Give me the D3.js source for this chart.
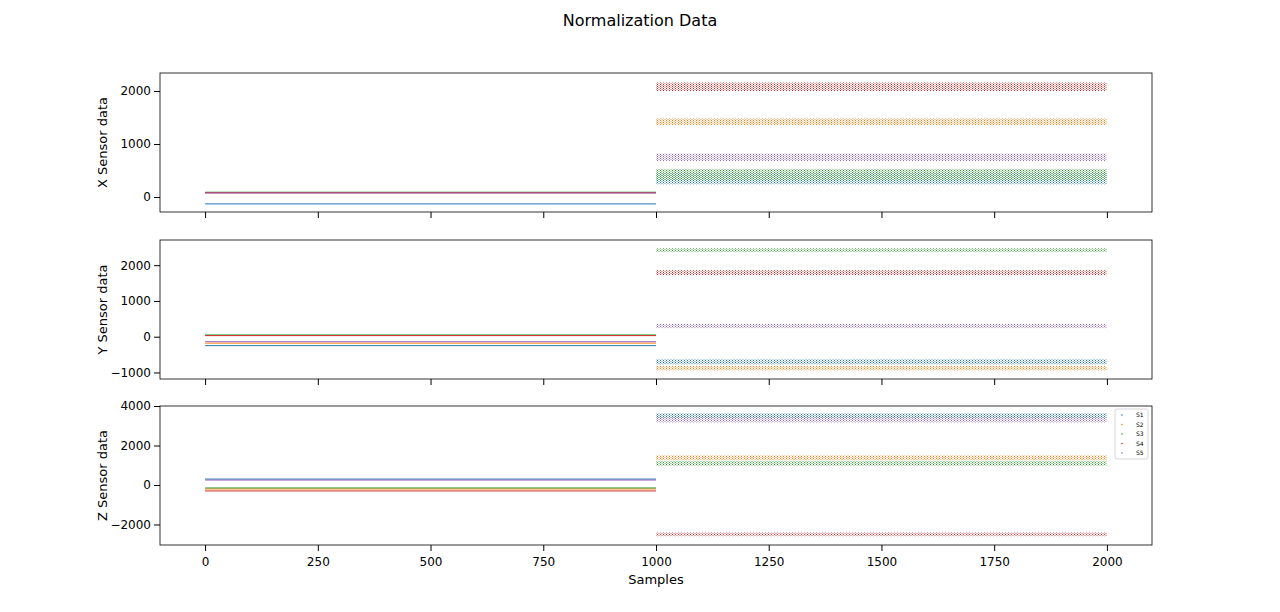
<!DOCTYPE html>
<html><head><meta charset="utf-8">
<script src="https://cdn.jsdelivr.net/npm/d3@7"></script>
<style>body{margin:0;background:#fff;font-family:"DejaVu Sans",sans-serif;}</style>
</head><body>
<script>
// Series names and colours (matplotlib tab10)
const seriesNames = ["S1", "S2", "S3", "S4", "S5"];
const colors = ["#1f77b4", "#ff7f0e", "#2ca02c", "#d62728", "#9467bd"];

// Each sensor: level for samples 0-1000 and 1000-2000, with approx spread (half width)
const panelLabels = ["X Sensor data", "Y Sensor data", "Z Sensor data"];
const firstLevels = [
  [-130, 85, 90, 80, 75],
  [-250, -180, 50, 30, -140],
  [300, -200, -150, -300, 250]
];
const secondLevels = [
  [350, 1420, 420, 2080, 750],
  [-700, -880, 2420, 1790, 300],
  [3500, 1380, 1100, -2500, 3300]
];
const secondSpread = [
  [110, 60, 110, 80, 70],
  [70, 60, 50, 70, 60],
  [130, 120, 120, 90, 130]
];
const yDomains = [[-283, 2340], [-1183, 2704], [-3038, 4000]];
const yTicks = [[0, 1000, 2000], [-1000, 0, 1000, 2000], [-2000, 0, 2000, 4000]];
const xTicks = [0, 250, 500, 750, 1000, 1250, 1500, 1750, 2000];

const W = 1280, H = 612;
const left = 160, right = 1152;
const tops = [73, 240, 406], ph = 139;

const svg = d3.select("body").append("svg").attr("width", W).attr("height", H);

// dotted fill patterns to imitate scattered points
const defs = svg.append("defs");
colors.forEach((c, i) => {
  const p = defs.append("pattern").attr("id", "dots" + i)
    .attr("width", 3).attr("height", 2).attr("patternUnits", "userSpaceOnUse");
  p.append("rect").attr("x", 0).attr("y", 0).attr("width", 1).attr("height", 1).attr("fill", c);
  p.append("rect").attr("x", 1.5).attr("y", 1).attr("width", 1).attr("height", 1).attr("fill", c).attr("opacity", 0.8);
});

svg.append("text").attr("x", 640).attr("y", 26).attr("text-anchor", "middle")
  .attr("font-size", 16).text("Normalization Data");

const x = d3.scaleLinear().domain([-100, 2100]).range([left, right]);

tops.forEach((top, k) => {
  const y = d3.scaleLinear().domain(yDomains[k]).range([top + ph, top]);
  const g = svg.append("g");

  seriesNames.forEach((s, i) => {
    // first half: near-constant line
    g.append("line")
      .attr("x1", x(0)).attr("x2", x(1000))
      .attr("y1", y(firstLevels[k][i])).attr("y2", y(firstLevels[k][i]))
      .attr("stroke", colors[i]).attr("stroke-width", 1);
    // second half: noisy band
    const lv = secondLevels[k][i], sp = secondSpread[k][i];
    g.append("rect")
      .attr("x", x(1000)).attr("width", x(2000) - x(1000))
      .attr("y", y(lv + sp)).attr("height", y(lv - sp) - y(lv + sp))
      .attr("fill", "url(#dots" + i + ")");
  });

  const xa = g.append("g").attr("transform", `translate(0,${top + ph})`)
    .call(d3.axisBottom(x).tickValues(xTicks).tickSizeOuter(0).tickFormat(k === 2 ? d3.format("d") : ""));
  const ya = g.append("g").attr("transform", `translate(${left},0)`)
    .call(d3.axisLeft(y).tickValues(yTicks[k]).tickSizeOuter(0).tickFormat(d3.format("d")));
  [xa, ya].forEach(a => {
    a.select(".domain").remove();
    a.selectAll("text").attr("font-size", 12).attr("font-family", "DejaVu Sans").attr("fill", "#000");
    a.selectAll("line").attr("stroke", "#000");
  });
  xa.selectAll("text").attr("dy", "1em");
  ya.selectAll("text").text(d => d < 0 ? "\u2212" + Math.abs(d) : d);

  g.append("rect").attr("x", left).attr("y", top).attr("width", right - left).attr("height", ph)
    .attr("fill", "none").attr("stroke", "#000").attr("stroke-width", 0.8);

  svg.append("text").attr("transform", `translate(107,${top + ph / 2}) rotate(-90)`)
    .attr("text-anchor", "middle").attr("font-size", 13).text(panelLabels[k]);
});

svg.append("text").attr("x", x(1000)).attr("y", 584).attr("text-anchor", "middle")
  .attr("font-size", 13).text("Samples");

// legend in bottom panel
const lg = svg.append("g").attr("transform", "translate(1115,409)");
lg.append("rect").attr("width", 33).attr("height", 50).attr("rx", 2)
  .attr("fill", "#fff").attr("stroke", "#ccc").attr("stroke-width", 0.8);
seriesNames.forEach((s, i) => {
  lg.append("circle").attr("cx", 7).attr("cy", 6 + i * 9.5).attr("r", 0.8).attr("fill", colors[i]);
  lg.append("text").attr("x", 21).attr("y", 8 + i * 9.5).attr("font-size", 6).text(s);
});
</script>
</body></html>
